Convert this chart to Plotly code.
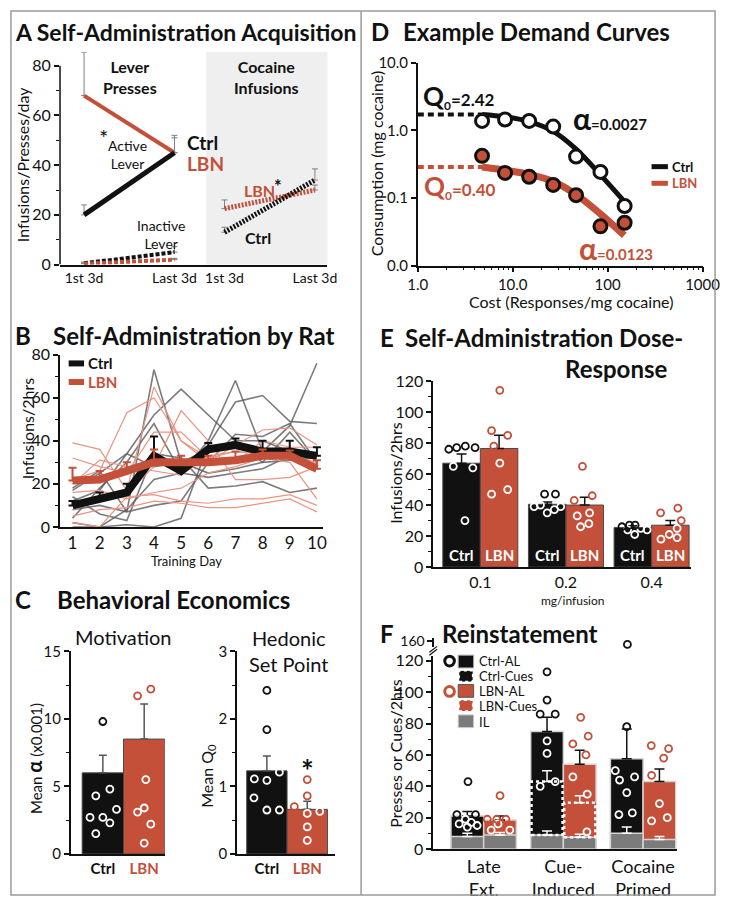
import plotly.graph_objects as go

W, H = 734, 906
FONT = "Lato"
BLACK = "#111111"
RED = "#c4503a"
LRED = "#ea9482"
RATGREY = "#5c5c5c"
ILGREY = "#7b7b7b"

# ---------------- DATA ----------------
# A: acquisition (first 3 days vs last 3 days)
a_periods = ["1st 3d", "Last 3d"]
a_active_ctrl = [20, 45]
a_active_ctrl_sem = [4, 7]
a_active_lbn = [68, 45]
a_active_lbn_sem = [17.5, 6]
a_inactive_ctrl = [0.5, 5]
a_inactive_ctrl_sem = [0.5, 2.2]
a_inactive_lbn = [0.3, 2]
a_inactive_lbn_sem = [0.3, 0.5]
a_inf_ctrl = [13, 34]
a_inf_ctrl_sem = [2, 4.5]
a_inf_lbn = [22.5, 30]
a_inf_lbn_sem = [3.5, 2]

# B: self-administration by rat
b_days = [1, 2, 3, 4, 5, 6, 7, 8, 9, 10]
b_ctrl_mean = [10, 13, 16, 33, 26, 36, 38, 35, 35, 33]
b_ctrl_sem = [2, 3, 4, 9, 3, 3, 3, 5, 5, 4]
b_lbn_mean = [21.5, 22, 26, 30, 30, 30, 31, 33, 33, 27]
b_lbn_sem = [6, 4, 4, 6, 3, 3, 4, 3, 2.5, 4]
b_ctrl_rats = [
    [18, 26, 7, 73, 30, 25, 27, 30, 44, 30],
    [12, 17, 34, 52, 64, 52, 40, 30, 31, 32],
    [4, 18, 30, 48, 25, 40, 68, 35, 47, 76],
    [0, 0, 1, 0, 4, 38, 58, 61, 49, 48],
    [2, 0, 8, 22, 25, 23, 25, 27, 33, 29],
    [14, 6, 3, 34, 32, 18, 19, 21, 16, 18],
    [8, 10, 7, 10, 12, 30, 43, 42, 48, 30],
    [17, 25, 34, 28, 30, 36, 40, 40, 35, 33],
]
b_lbn_rats = [
    [39, 36, 17, 65, 40, 30, 38, 45, 46, 38],
    [22, 26, 53, 60, 40, 32, 35, 34, 33, 30],
    [32, 28, 25, 44, 44, 32, 30, 40, 37, 37],
    [16, 17, 13, 16, 18, 25, 28, 32, 30, 13],
    [8, 12, 16, 28, 54, 40, 22, 22, 23, 28],
    [5, 8, 9, 12, 11, 9, 9, 11, 13, 7],
    [2, 0, 14, 15, 12, 11, 13, 13, 15, 10],
    [20, 31, 28, 26, 24, 33, 35, 34, 32, 29],
]

# C: behavioral economics
c_groups = ["Ctrl", "LBN"]
c_alpha_mean = [6.0, 8.5]
c_alpha_sem = [1.3, 2.6]
c_alpha_ctrl_pts = [9.8, 4.8, 4.3, 3.3, 2.7, 2.7, 2.3, 1.5]
c_alpha_lbn_pts = [12.2, 11.7, 5.5, 3.4, 3.1, 2.2, 0.8]
c_alpha_ctrl_jit = [0.0, 0.17, -0.17, 0.33, -0.31, 0.0, 0.17, -0.17]
c_alpha_lbn_jit = [0.16, -0.16, 0.04, 0.0, -0.16, 0.16, 0.0]
c_q0_mean = [1.23, 0.66]
c_q0_sem = [0.22, 0.12]
c_q0_ctrl_pts = [2.42, 1.84, 1.21, 1.11, 1.09, 0.83, 0.65, 0.65]
c_q0_lbn_pts = [1.10, 0.86, 0.70, 0.63, 0.60, 0.40, 0.20]
c_q0_ctrl_jit = [0, 0, 0.31, -0.31, 0, -0.32, 0, 0.31]
c_q0_lbn_jit = [0, 0, -0.32, 0.31, 0, 0, 0]

# D: example demand curves
d_cost = [4.75, 8.3, 14.9, 26.7, 46.5, 84, 151]
d_ctrl_cons = [1.38, 1.45, 1.38, 1.14, 0.41, 0.243, 0.076]
d_lbn_cons = [0.42, 0.235, 0.206, 0.156, 0.11, 0.038, 0.043]
d_ctrl_fit_x = [4.75, 8.3, 14.9, 26.7, 46.5, 84, 160]
d_ctrl_fit_y = [1.72, 1.59, 1.35, 0.97, 0.53, 0.22, 0.08]
d_lbn_fit_x = [4.75, 8.3, 14.9, 26.7, 46.5, 84, 150]
d_lbn_fit_y = [0.287, 0.257, 0.223, 0.175, 0.112, 0.058, 0.028]
d_ctrl_q0_level = 1.72
d_lbn_q0_level = 0.287

# E: dose-response
e_doses = ["0.1", "0.2", "0.4"]
e_ctrl_mean = [67, 40.5, 25.5]
e_ctrl_sem = [6, 1.5, 1.2]
e_lbn_mean = [76.5, 40, 27]
e_lbn_sem = [8.5, 5, 3]
e_ctrl_pts = [[76, 77, 78, 77, 65, 64, 30],
              [47, 47, 40, 39, 39, 37, 35],
              [26, 27, 27, 25, 24, 21, 24]]
e_lbn_pts = [[114, 88, 85, 78, 67, 50, 47],
             [65, 46, 43, 35, 33, 28, 26],
             [38, 35, 30, 25, 21, 19, 18]]
e_ctrl_jit = [[-0.34, -0.13, 0.10, 0.36, -0.22, 0.30, 0.09],
              [-0.07, 0.22, -0.18, -0.35, 0.36, 0.19, 0.0],
              [-0.29, -0.09, 0.06, 0.21, 0.38, 0.05, -0.14]]
e_lbn_jit = [[0.02, -0.2, 0.23, -0.14, 0.02, 0.23, -0.2],
             [-0.06, 0.2, -0.28, 0.13, -0.2, 0.11, -0.11],
             [0.2, -0.26, 0.29, 0.18, -0.03, 0.18, -0.25]]

# F: reinstatement
f_tests = ["Late<br>Ext.", "Cue-<br>Induced", "Cocaine<br>Primed"]
f_ctrl_al = [21, 75, 57.5]
f_ctrl_al_sem = [3, 9, 19]
f_lbn_al = [18.5, 54, 43]
f_lbn_al_sem = [2.5, 9, 8]
f_ctrl_il = [8, 9, 10]
f_ctrl_il_sem = [2, 2.5, 4]
f_lbn_il = [9, 7.5, 6]
f_lbn_il_sem = [1.5, 2, 2]
f_ctrl_cues = 43
f_ctrl_cues_sem = 7
f_lbn_cues = 29.5
f_lbn_cues_sem = 4.5
f_ctrl_pts = [[43, 22, 22, 19, 17, 16, 15, 14],
              [113, 95, 86, 86, 69, 61, 43, 40],
              [157, 78, 50, 46, 44, 36, 23, 22]]
f_lbn_pts = [[34, 19, 19, 19, 16, 12, 12],
             [84, 72, 67, 60, 46, 35, 11],
             [66, 64, 58, 47, 29, 20, 18]]
f_ctrl_jit = [[0.02, -0.32, 0.25, -0.06, 0.12, -0.25, 0.3, 0.0],
              [0.0, 0.0, -0.21, 0.25, 0.0, 0.0, 0.25, -0.21],
              [0.02, 0.0, -0.35, 0.24, -0.22, 0.0, 0.17, -0.24]]
f_lbn_jit = [[0.0, -0.39, -0.1, 0.18, -0.06, -0.27, 0.3],
             [0.03, 0.26, -0.21, 0.19, -0.21, 0.23, 0.22],
             [-0.25, 0.28, 0.13, -0.24, 0.0, 0.24, -0.24]]


# ---------------- HELPERS ----------------
def dx(a, b):
    return [a / W, b / W]


def dy(top, bot):
    return [1 - bot / H, 1 - top / H]


def tf(size):
    return dict(size=size, family=FONT, color=BLACK)


def axis(domain, rng, size=16, **kw):
    d = dict(domain=domain, range=rng, showgrid=False, zeroline=False,
             showline=True, linecolor=BLACK, linewidth=1.5,
             ticks="outside", ticklen=5, tickwidth=1.5, tickcolor=BLACK,
             tickfont=tf(size), fixedrange=True)
    d.update(kw)
    return d


def minor(step):
    return dict(dtick=step, ticks="outside", ticklen=3, tickcolor=BLACK, tickwidth=1)


annotations = []
shapes = []


def txt(s, x, y, size, color=BLACK, xa="left", ya="middle", angle=0):
    annotations.append(dict(text=s, x=x / W, y=1 - y / H, xref="paper", yref="paper",
                            xanchor=xa, yanchor=ya, showarrow=False, textangle=angle,
                            font=dict(size=size, color=color, family=FONT)))


def pline(x0, y0, x1, y1, color, width, dash=None):
    shapes.append(dict(type="line", xref="paper", yref="paper", x0=x0 / W, x1=x1 / W,
                       y0=1 - y0 / H, y1=1 - y1 / H,
                       line=dict(color=color, width=width, dash=dash)))


def prect(x0, y0, x1, y1, fill, lcolor, lwidth, dash=None):
    shapes.append(dict(type="rect", xref="paper", yref="paper", x0=x0 / W, x1=x1 / W,
                       y0=1 - y1 / H, y1=1 - y0 / H, fillcolor=fill,
                       line=dict(color=lcolor, width=lwidth, dash=dash)))


def err(sem, color, thick=1.5, width=4):
    return dict(type="data", symmetric=False, array=sem, arrayminus=[0] * len(sem),
                color=color, thickness=thick, width=width)


fig = go.Figure()


def dots(xs, vals, bar_h, color, xa, ya, size=7, lw=1.8, top_axis=None, limit=None):
    groups = {"in": [], "out": [], "top": []}
    for x, v in zip(xs, vals):
        if limit is not None and v > limit:
            groups["top"].append((x, v))
        elif v <= bar_h:
            groups["in"].append((x, v))
        else:
            groups["out"].append((x, v))
    for key, col in (("in", "white"), ("out", color), ("top", color)):
        pts = groups[key]
        if not pts:
            continue
        yaxis = top_axis if key == "top" else ya
        fig.add_trace(go.Scatter(
            x=[p[0] for p in pts], y=[p[1] for p in pts], mode="markers",
            marker=dict(symbol="circle", size=size, color="rgba(0,0,0,0)",
                        line=dict(color=col, width=lw)),
            xaxis=xa, yaxis=yaxis, showlegend=False, hoverinfo="skip", cliponaxis=False))


# ---------------- PANEL A ----------------
xa_pos = [0, 1]
fig.add_trace(go.Scatter(x=xa_pos, y=a_active_lbn, mode="lines", line=dict(color=RED, width=4),
                         error_y=err(a_active_lbn_sem, "#808080", 1, 3), xaxis="x", yaxis="y"))
fig.add_trace(go.Scatter(x=xa_pos, y=a_active_ctrl, mode="lines", line=dict(color=BLACK, width=5),
                         error_y=err(a_active_ctrl_sem, "#808080", 1, 3), xaxis="x", yaxis="y"))
fig.add_trace(go.Scatter(x=xa_pos, y=a_inactive_ctrl, mode="lines",
                         line=dict(color=BLACK, width=4, dash="4px,2px"),
                         error_y=err(a_inactive_ctrl_sem, "#808080", 1, 3), xaxis="x", yaxis="y"))
fig.add_trace(go.Scatter(x=xa_pos, y=a_inactive_lbn, mode="lines",
                         line=dict(color=RED, width=4, dash="4px,2px"),
                         error_y=err(a_inactive_lbn_sem, "#808080", 1, 3), xaxis="x", yaxis="y"))
fig.add_trace(go.Scatter(x=xa_pos, y=a_inf_lbn, mode="lines",
                         line=dict(color=RED, width=5, dash="2px,1.5px"),
                         error_y=err(a_inf_lbn_sem, "#808080", 1, 3), xaxis="x2", yaxis="y2"))
fig.add_trace(go.Scatter(x=xa_pos, y=a_inf_ctrl, mode="lines",
                         line=dict(color=BLACK, width=5, dash="2px,1.5px"),
                         error_y=err(a_inf_ctrl_sem, "#808080", 1, 3), xaxis="x2", yaxis="y2"))

# ---------------- PANEL B ----------------
for r in b_ctrl_rats:
    fig.add_trace(go.Scatter(x=b_days, y=r, mode="lines", line=dict(color=RATGREY, width=1.6),
                             opacity=0.8, xaxis="x3", yaxis="y3"))
for r in b_lbn_rats:
    fig.add_trace(go.Scatter(x=b_days, y=r, mode="lines", line=dict(color=LRED, width=1.2),
                             xaxis="x3", yaxis="y3"))
fig.add_trace(go.Scatter(x=b_days, y=b_ctrl_mean, mode="lines", line=dict(color=BLACK, width=8),
                         error_y=err(b_ctrl_sem, BLACK, 2, 4), xaxis="x3", yaxis="y3"))
fig.add_trace(go.Scatter(x=b_days, y=b_lbn_mean, mode="lines", line=dict(color=RED, width=8),
                         error_y=err(b_lbn_sem, RED, 2, 4), xaxis="x3", yaxis="y3"))

# ---------------- PANEL C ----------------
c_x = [0, 1]
c_cols = [BLACK, RED]
for xa, ya, means, sems, pts, jits in (
        ("x4", "y4", c_alpha_mean, c_alpha_sem, (c_alpha_ctrl_pts, c_alpha_lbn_pts),
         (c_alpha_ctrl_jit, c_alpha_lbn_jit)),
        ("x5", "y5", c_q0_mean, c_q0_sem, (c_q0_ctrl_pts, c_q0_lbn_pts),
         (c_q0_ctrl_jit, c_q0_lbn_jit))):
    fig.add_trace(go.Bar(x=c_x, y=means, width=1.0,
                         marker=dict(color=c_cols, line=dict(color="#4a4a4a", width=1)),
                         error_y=err(sems, "#555555", 1.5, 4), xaxis=xa, yaxis=ya))
    for i in range(2):
        xs = [c_x[i] + j for j in jits[i]]
        dots(xs, pts[i], means[i], c_cols[i], xa, ya, size=7, lw=1.8)

# ---------------- PANEL D ----------------
fig.add_trace(go.Scatter(x=[1, d_cost[0]], y=[d_ctrl_q0_level] * 2, mode="lines",
                         line=dict(color=BLACK, width=4, dash="6px,4px"), xaxis="x6", yaxis="y6"))
fig.add_trace(go.Scatter(x=[1, d_cost[0]], y=[d_lbn_q0_level] * 2, mode="lines",
                         line=dict(color=RED, width=4, dash="6px,4px"), xaxis="x6", yaxis="y6"))
fig.add_trace(go.Scatter(x=d_ctrl_fit_x, y=d_ctrl_fit_y, mode="lines", line_shape="spline",
                         line=dict(color=BLACK, width=5), xaxis="x6", yaxis="y6"))
fig.add_trace(go.Scatter(x=d_lbn_fit_x, y=d_lbn_fit_y, mode="lines", line_shape="spline",
                         line=dict(color=RED, width=7), xaxis="x6", yaxis="y6"))
fig.add_trace(go.Scatter(x=d_cost, y=d_ctrl_cons, mode="markers",
                         marker=dict(size=13, color="white", line=dict(color=BLACK, width=3)),
                         xaxis="x6", yaxis="y6", cliponaxis=False))
fig.add_trace(go.Scatter(x=d_cost, y=d_lbn_cons, mode="markers",
                         marker=dict(size=13, color=RED, line=dict(color=BLACK, width=3)),
                         xaxis="x6", yaxis="y6", cliponaxis=False))

# ---------------- PANEL E ----------------
e_x = [0, 1, 2]
e_bw = 0.438
fig.add_trace(go.Bar(x=e_x, y=e_ctrl_mean, offset=-e_bw, width=e_bw,
                     marker=dict(color=BLACK, line=dict(color="#4a4a4a", width=1)),
                     error_y=err(e_ctrl_sem, BLACK, 1.5, 5), xaxis="x7", yaxis="y7"))
fig.add_trace(go.Bar(x=e_x, y=e_lbn_mean, offset=0, width=e_bw,
                     marker=dict(color=RED, line=dict(color="#4a4a4a", width=1)),
                     error_y=err(e_lbn_sem, BLACK, 1.5, 5), xaxis="x7", yaxis="y7"))
for i in range(3):
    cc = e_x[i] - e_bw / 2
    lc = e_x[i] + e_bw / 2
    dots([cc + j * e_bw for j in e_ctrl_jit[i]], e_ctrl_pts[i], e_ctrl_mean[i], BLACK, "x7", "y7")
    dots([lc + j * e_bw for j in e_lbn_jit[i]], e_lbn_pts[i], e_lbn_mean[i], RED, "x7", "y7")
    for xc, lbl in ((cc, "Ctrl"), (lc, "LBN")):
        annotations.append(dict(text="<b>%s</b>" % lbl, x=xc, xref="x7", y=1 - 557 / H,
                                yref="paper", showarrow=False, xanchor="center", yanchor="middle",
                                font=dict(size=15, color="white", family=FONT)))

# ---------------- PANEL F ----------------
f_x = [0, 1, 2]
f_bw = 0.41
edge = dict(color="#d4d4d4", width=1.5)
fig.add_trace(go.Bar(x=f_x, y=f_ctrl_al, offset=-f_bw, width=f_bw,
                     marker=dict(color=BLACK, line=edge),
                     error_y=err(f_ctrl_al_sem, BLACK, 1.5, 5), xaxis="x8", yaxis="y8"))
fig.add_trace(go.Bar(x=f_x, y=f_lbn_al, offset=0, width=f_bw,
                     marker=dict(color=RED, line=edge),
                     error_y=err(f_lbn_al_sem, BLACK, 1.5, 5), xaxis="x8", yaxis="y8"))
fig.add_trace(go.Bar(x=[f_x[1]], y=[f_ctrl_cues], offset=-f_bw, width=f_bw,
                     marker=dict(color=BLACK, line=dict(width=0)),
                     error_y=err([f_ctrl_cues_sem], "white", 1.5, 5), xaxis="x8", yaxis="y8"))
fig.add_trace(go.Bar(x=[f_x[1]], y=[f_lbn_cues], offset=0, width=f_bw,
                     marker=dict(color=RED, line=dict(width=0)),
                     error_y=err([f_lbn_cues_sem], "white", 1.5, 5), xaxis="x8", yaxis="y8"))
for xc, top, base in ((f_x[1] - f_bw, f_ctrl_cues, f_ctrl_il[1]), (f_x[1], f_lbn_cues, f_lbn_il[1])):
    shapes.append(dict(type="rect", xref="x8", yref="y8", x0=xc + 0.01, x1=xc + f_bw - 0.01,
                       y0=base, y1=top, line=dict(color="white", width=2.5, dash="dot"),
                       fillcolor="rgba(0,0,0,0)"))
fig.add_trace(go.Bar(x=f_x, y=f_ctrl_il, offset=-f_bw, width=f_bw,
                     marker=dict(color=ILGREY, line=edge),
                     error_y=err(f_ctrl_il_sem, "white", 1.5, 5), xaxis="x8", yaxis="y8"))
fig.add_trace(go.Bar(x=f_x, y=f_lbn_il, offset=0, width=f_bw,
                     marker=dict(color=ILGREY, line=edge),
                     error_y=err(f_lbn_il_sem, "white", 1.5, 5), xaxis="x8", yaxis="y8"))
for i in range(3):
    cc = f_x[i] - f_bw / 2
    lc = f_x[i] + f_bw / 2
    dots([cc + j * f_bw for j in f_ctrl_jit[i]], f_ctrl_pts[i], f_ctrl_al[i], BLACK, "x8", "y8",
         size=7, lw=1.8, top_axis="y9", limit=120)
    dots([lc + j * f_bw for j in f_lbn_jit[i]], f_lbn_pts[i], f_lbn_al[i], RED, "x8", "y8",
         size=7, lw=1.8, top_axis="y9", limit=120)

# ---------------- LAYOUT ----------------
noticks = dict(ticks="", ticklen=0)
lay = dict(
    width=W, height=H, margin=dict(l=0, r=0, t=0, b=0),
    paper_bgcolor="white", plot_bgcolor="rgba(0,0,0,0)", showlegend=False,
    barmode="overlay", font=dict(family=FONT, color=BLACK),
    # A
    xaxis=axis(dx(52, 204), [-0.266, 1.351], 14, anchor="y", tickvals=xa_pos, ticktext=a_periods,
               **noticks),
    yaxis=axis(dy(43, 260), [0, 85.5], 16, anchor="x", tickvals=[0, 20, 40, 60, 80], showline=False,
               minor=minor(10)),
    xaxis2=axis(dx(204, 330), [-0.202, 1.138], 14, anchor="y2", tickvals=xa_pos, ticktext=a_periods,
                **noticks),
    yaxis2=axis(dy(43, 260), [0, 85.5], anchor="x2", visible=False),
    # B
    xaxis3=axis(dx(52, 325), [0.54, 10.21], 17, anchor="y3", tickvals=b_days, **noticks),
    yaxis3=axis(dy(352, 528), [0, 80], 16, anchor="x3", tickvals=[0, 20, 40, 60, 80], minor=minor(10)),
    # C
    xaxis4=axis(dx(63, 161), [-0.78, 1.5], 15, anchor="y4", tickvals=c_x,
                ticktext=["<b>Ctrl</b>", "<b><span style='color:%s'>LBN</span></b>" % RED],
                **noticks),
    yaxis4=axis(dy(655, 862), [0, 15], 15, anchor="x4", tickvals=[0, 5, 10, 15], minor=minor(2.5)),
    xaxis5=axis(dx(236, 338), [-0.74, 1.69], 15, anchor="y5", tickvals=c_x,
                ticktext=["<b>Ctrl</b>", "<b><span style='color:%s'>LBN</span></b>" % RED],
                **noticks),
    yaxis5=axis(dy(655, 862), [0, 3], 15, anchor="x5", tickvals=[0, 1, 2, 3], minor=minor(0.5)),
    # D
    xaxis6=axis(dx(424, 720), [0, 3], 15, type="log", anchor="y6", tickvals=[1, 10, 100, 1000],
                ticktext=["1.0", "10.0", "100", "1000"], minor=minor("D1")),
    yaxis6=axis(dy(54, 261), [-2, 1], 15, type="log", anchor="x6", tickvals=[0.01, 0.1, 1, 10],
                ticktext=["0.0", "0.1", "1.0", "10.0"]),
    # E
    xaxis7=axis(dx(440, 708), [-0.55, 2.46], 16, anchor="y7", tickvals=e_x, ticktext=e_doses,
                **noticks),
    yaxis7=axis(dy(379, 569), [0, 120], 16, anchor="x7", tickvals=[0, 20, 40, 60, 80, 100, 120],
                minor=minor(10)),
    # F
    xaxis8=axis(dx(440, 693), [-0.633, 2.42], 18, anchor="y8", tickvals=f_x, ticktext=f_tests,
                linewidth=2, **noticks),
    yaxis8=axis(dy(660, 857), [0, 123], 16, anchor="x8", tickvals=[0, 20, 40, 60, 80, 100, 120],
                minor=minor(10)),
    xaxis9=axis(dx(440, 693), [-0.633, 2.42], anchor="y9", visible=False),
    yaxis9=axis(dy(641, 651), [154, 164], 14, anchor="free", position=440 / W, tickvals=[160]),
)

# frame
prect(1, 1, 733, 904, "rgba(0,0,0,0)", "#9a9a9a", 1.5)
pline(365, 1, 365, 904, "#9a9a9a", 1.5)

# A extras
shapes.append(dict(type="rect", xref="x2 domain", yref="y2 domain", x0=0, x1=1, y0=0, y1=1,
                   fillcolor="#efefef", line=dict(width=0), layer="below"))
shapes.append(dict(type="line", xref="x domain", yref="y", x0=0, x1=0, y0=0, y1=80,
                   line=dict(color=BLACK, width=1.5)))
txt("<b>A Self-Administration Acquisition</b>", 3, 22, 23)
txt("<b>Lever<br>Presses</b>", 125, 68, 16, xa="center")
txt("<b>Cocaine<br>Infusions</b>", 267, 68, 16, xa="center")
txt("*", 97, 130, 22, xa="center")
txt("Active<br>Lever", 122, 148, 14, xa="center")
txt("<b>Ctrl</b>", 182, 135, 19)
txt("<b>LBN</b>", 182, 157, 19, color=RED)
txt("Inactive<br>Lever", 157, 229, 14, xa="center")
txt("<b>LBN</b>", 241, 184, 16, color=RED)
txt("<b>*</b>", 272, 180, 18)
txt("<b>Ctrl</b>", 242, 232, 16)
txt("Infusions/Presses/day", 13, 158, 16, xa="center", angle=-90)

# B extras
txt("<b>B</b>", 3, 332, 24)
txt("<b>Self-Administration by Rat</b>", 43, 332, 24)
pline(61, 361, 77, 361, BLACK, 6)
txt("<b>Ctrl</b>", 79, 361, 15)
pline(61, 380, 77, 380, RED, 6)
txt("<b>LBN</b>", 79, 380, 15, color=RED)
txt("Infusions/2hrs", 18, 427, 16, xa="center", angle=-90)
txt("Training Day", 183, 563, 13, xa="center")

# C extras
txt("<b>C</b>", 3, 602, 24)
txt("<b>Behavioral Economics</b>", 47, 602, 24)
txt("Motivation", 118, 640, 20, xa="center")
txt("Hedonic<br>Set Point", 290, 655, 20, xa="center")
txt("Mean <b><span style='font-size:20px'>α</span></b> (x0.001)", 25, 765, 15, xa="center", angle=-90)
txt("Mean Q<sub>0</sub>", 205, 782, 16, xa="center", angle=-90)
txt("<b>*</b>", 309, 776, 30, xa="center")

# D extras
txt("<b>D</b>", 373, 22, 24)
txt("<b>Example Demand Curves</b>", 407, 22, 24)
txt("<b><span style='font-size:26px'>Q</span><sub>0</sub>=2.42</b>", 427, 88, 17)
txt("<b><span style='font-size:30px'>α</span>=0.0027</b>", 583, 110, 15)
txt("<b><span style='font-size:26px'>Q</span><sub>0</sub>=0.40</b>", 428, 180, 17, color=RED)
txt("<b><span style='font-size:30px'>α</span>=0.0123</b>", 590, 243, 15, color=RED)
pline(667, 160, 684, 160, BLACK, 5)
txt("<b>Ctrl</b>", 686, 160, 13)
pline(667, 177, 684, 177, RED, 5)
txt("<b>LBN</b>", 686, 177, 13, color=RED)
txt("Consumption (mg cocaine)", 381, 157, 16, xa="center", angle=-90)
txt("Cost (Responses/mg cocaine)", 583, 298, 16, xa="center")

# E extras
txt("<b>E</b>", 383, 335, 24)
txt("<b>Self-Administration Dose-</b>", 409, 335, 24)
txt("<b>Response</b>", 685, 366, 24, xa="right")
txt("Infusions/2hrs", 400, 473, 16, xa="center", angle=-90)
txt("mg/infusion", 585, 603, 12, xa="center")

# F extras
txt("<b>F</b>", 383, 637, 24)
txt("<b>Reinstatement</b>", 447, 637, 24)
txt("Presses or Cues/2hrs", 400, 760, 16, xa="center", angle=-90)
pline(436, 659, 444, 653, BLACK, 1.2)
pline(436, 656, 444, 650, BLACK, 1.2)
# F legend
shapes.append(dict(type="circle", xref="paper", yref="paper", x0=452 / W, x1=462 / W,
                   y0=1 - 670 / H, y1=1 - 660 / H, line=dict(color=BLACK, width=3)))
shapes.append(dict(type="circle", xref="paper", yref="paper", x0=452 / W, x1=462 / W,
                   y0=1 - 701 / H, y1=1 - 691 / H, line=dict(color=RED, width=3)))
prect(466, 659, 482, 672, BLACK, "#aaaaaa", 1)
prect(467, 675, 481, 686, BLACK, "white", 1.5, "dot")
prect(466, 689, 482, 702, RED, "#555555", 1)
prect(467, 705, 481, 716, RED, "white", 1.5, "dot")
prect(466, 720, 482, 733, ILGREY, "#cccccc", 1)
for lbl, yy in (("Ctrl-AL", 665), ("Ctrl-Cues", 680), ("LBN-AL", 696), ("LBN-Cues", 711), ("IL", 727)):
    txt(lbl, 486, yy, 13)

lay["annotations"] = annotations
lay["shapes"] = shapes
fig.update_layout(**lay)
fig.update_traces(showlegend=False, hoverinfo="skip")
fig.write_html("out.html", config={"displayModeBar": False},
               post_script="document.body.style.margin='0';document.body.style.overflow='hidden';")
